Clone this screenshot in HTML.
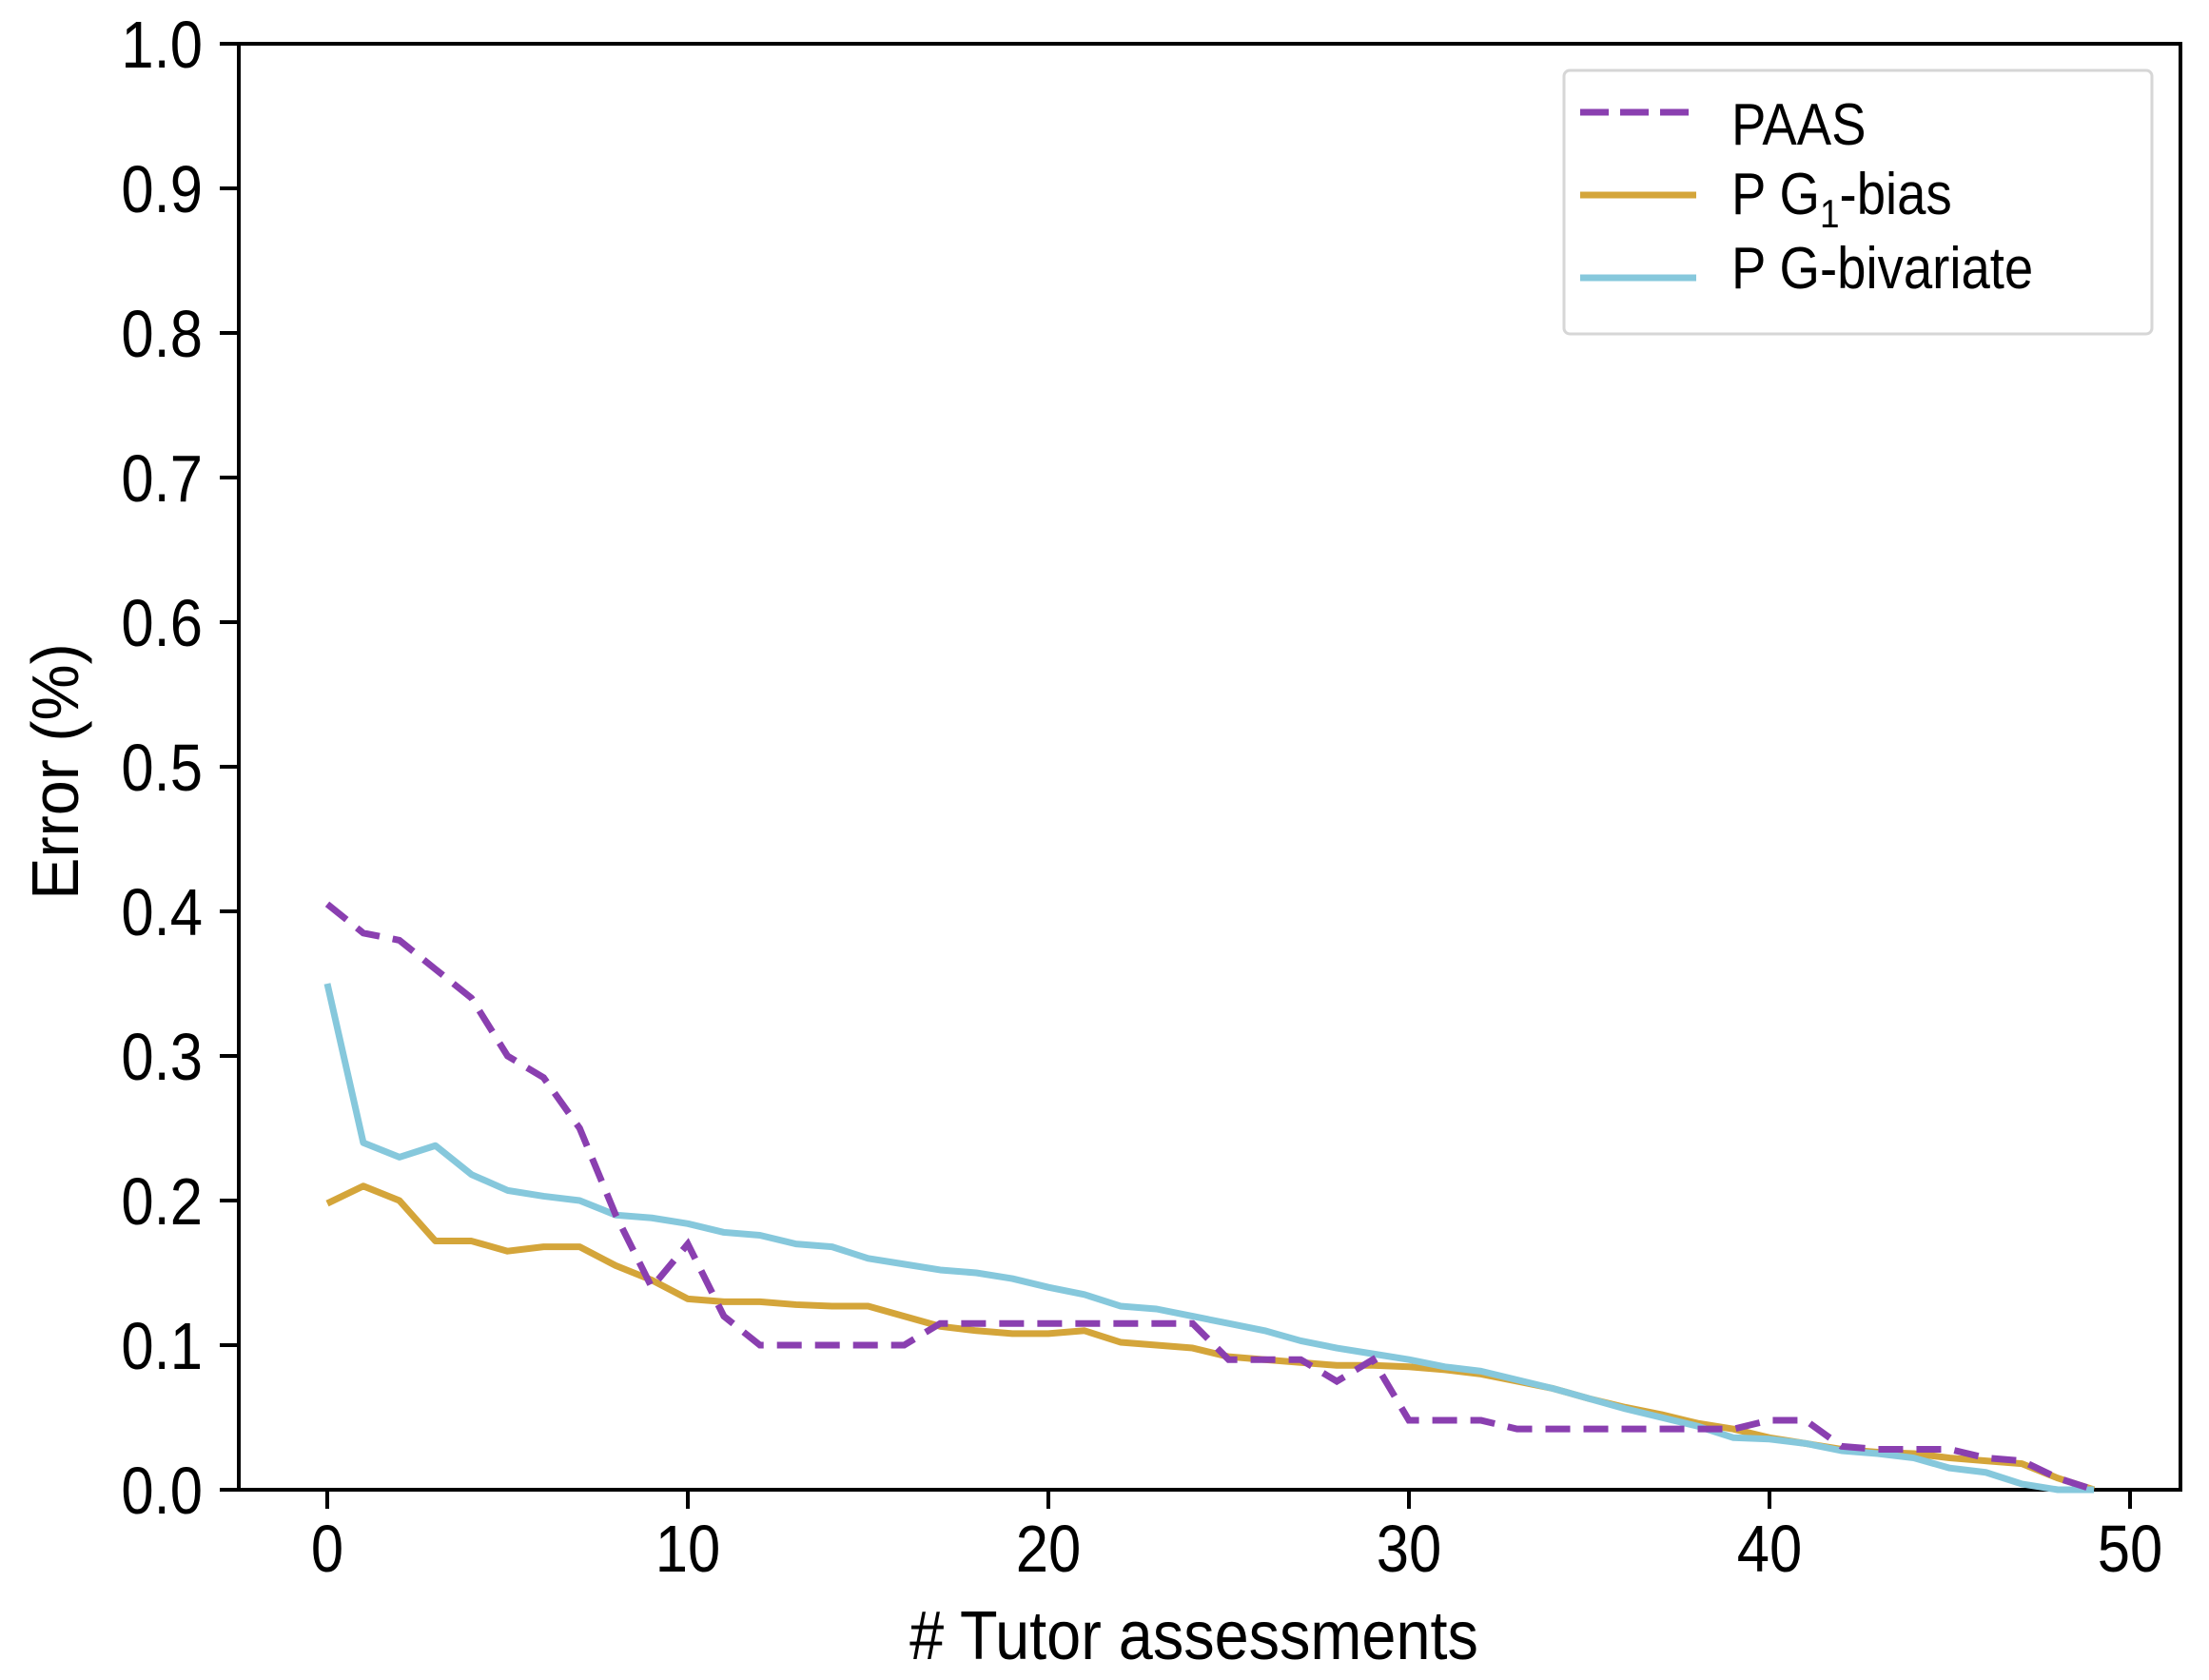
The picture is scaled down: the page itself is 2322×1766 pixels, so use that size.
<!DOCTYPE html>
<html><head><meta charset="utf-8"><style>
html,body{margin:0;padding:0;background:#fff;}
svg{display:block;font-family:"Liberation Sans",sans-serif;}
</style></head><body>
<svg id="chart" width="2322" height="1766" viewBox="0 0 2322 1766" xmlns="http://www.w3.org/2000/svg">
<g id="axes"></g>
<g id="series"></g>
<g id="legend">
  <rect x="1644" y="74" width="618" height="277" rx="6" fill="#fff" stroke="#d6d6d6" stroke-width="3"/>
  <line x1="1661" y1="118" x2="1783" y2="118" stroke="#8a3fb0" stroke-width="7" stroke-dasharray="30,12"/>
  <text x="1820" y="152" font-size="62" transform="translate(1820,0) scale(0.88,1) translate(-1820,0)">PAAS</text>
  <line x1="1661" y1="205" x2="1783" y2="205" stroke="#d4a53a" stroke-width="7"/>
  <text x="1820" y="225" font-size="62" transform="translate(1820,0) scale(0.88,1) translate(-1820,0)">P G<tspan font-size="42" dy="14">1</tspan><tspan dy="-14">-bias</tspan></text>
  <line x1="1661" y1="292" x2="1783" y2="292" stroke="#86c8dc" stroke-width="7"/>
  <text x="1820" y="303" font-size="62" transform="translate(1820,0) scale(0.88,1) translate(-1820,0)">P G-bivariate</text>
</g>
</svg>
<script>
const xs = [0,1,2,3,4,5,6,7,8,9,10,11,12,13,14,15,16,17,18,19,20,21,22,23,24,25,26,27,28,29,30,31,32,33,34,35,36,37,38,39,40,41,42,43,44,45,46,47,48,49];
const paas = [0.405,0.385,0.38,0.36,0.34,0.30,0.285,0.25,0.19,0.14,0.17,0.12,0.10,0.10,0.10,0.10,0.10,0.115,0.115,0.115,0.115,0.115,0.115,0.115,0.115,0.09,0.09,0.09,0.075,0.09,0.048,0.048,0.048,0.042,0.042,0.042,0.042,0.042,0.042,0.042,0.048,0.048,0.03,0.028,0.028,0.028,0.022,0.02,0.008,0];
const pg1 = [0.198,0.21,0.2,0.172,0.172,0.165,0.168,0.168,0.155,0.145,0.132,0.13,0.13,0.128,0.127,0.127,0.12,0.113,0.11,0.108,0.108,0.11,0.102,0.1,0.098,0.092,0.09,0.088,0.086,0.086,0.085,0.083,0.08,0.075,0.07,0.063,0.057,0.052,0.046,0.042,0.036,0.032,0.028,0.026,0.025,0.022,0.02,0.018,0.008,0];
const pgbiv = [0.35,0.24,0.23,0.238,0.218,0.207,0.203,0.2,0.19,0.188,0.184,0.178,0.176,0.17,0.168,0.16,0.156,0.152,0.15,0.146,0.14,0.135,0.127,0.125,0.12,0.115,0.11,0.103,0.098,0.094,0.09,0.085,0.082,0.076,0.07,0.063,0.056,0.05,0.044,0.036,0.035,0.032,0.027,0.025,0.022,0.015,0.012,0.004,0,0];
const xTicks = [0,10,20,30,40,50];
const yTicks = [0,0.1,0.2,0.3,0.4,0.5,0.6,0.7,0.8,0.9,1.0];

const L=251,R=2292,T=46,B=1566;
const X0=344,X50=2239;
function sx(v){return X0+(X50-X0)*v/50;}
function sy(v){return B-(B-T)*v;}
const NS="http://www.w3.org/2000/svg";
function mk(tag,attrs,parent){const e=document.createElementNS(NS,tag);for(const k in attrs)e.setAttribute(k,attrs[k]);parent.appendChild(e);return e;}
const axes=document.getElementById('axes');
const ser=document.getElementById('series');

xTicks.forEach(v=>{
  const t=mk('line',{x1:sx(v),y1:B,x2:sx(v),y2:B+20,stroke:'#000','stroke-width':4},axes);
  
  
  const tx=mk('text',{x:sx(v),y:1652,'font-size':70,'text-anchor':'middle',transform:`translate(${sx(v)},0) scale(0.88,1) translate(${-sx(v)},0)`},axes);
  
  
  tx.textContent=String(v);
});
yTicks.forEach(v=>{
  const t=mk('line',{x1:L-20,y1:sy(v),x2:L,y2:sy(v),stroke:'#000','stroke-width':4},axes);
  
  
  const tx=mk('text',{x:213,y:sy(v)+25,'font-size':70,'text-anchor':'end',transform:'translate(213,0) scale(0.88,1) translate(-213,0)'},axes);
  
  
  tx.textContent=v.toFixed(1);
});
const frame=mk('rect',{x:L,y:T,width:R-L,height:B-T,fill:'none',stroke:'#000','stroke-width':4},axes);


const xt=mk('text',{x:1255,y:1744,'font-size':72,'text-anchor':'middle',transform:'translate(1255,0) scale(0.9,1) translate(-1255,0)'},axes);


xt.textContent='# Tutor assessments';
const yt=mk('text',{x:0,y:0,'font-size':70,'text-anchor':'middle',transform:'translate(82,811) rotate(-90) scale(0.95,1)'},axes);


yt.textContent='Error (%)';

function pts(arr){return arr.map((v,i)=>sx(xs[i])+','+sy(v)).join(' ');}
const l1=mk('polyline',{points:pts(pg1),fill:'none',stroke:'#d4a53a','stroke-width':7,'stroke-linejoin':'round'},ser);


const l2=mk('polyline',{points:pts(pgbiv),fill:'none',stroke:'#86c8dc','stroke-width':7,'stroke-linejoin':'round'},ser);


const l3=mk('polyline',{points:pts(paas),fill:'none',stroke:'#8a3fb0','stroke-width':7,'stroke-dasharray':'26,14'},ser);


</script>
</body></html>
